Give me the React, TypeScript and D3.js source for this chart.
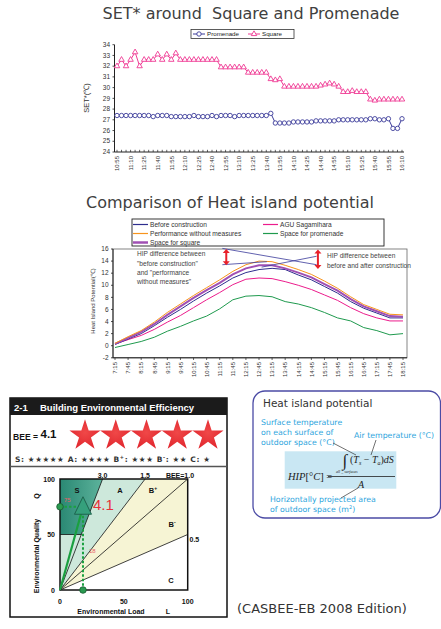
import React from 'react';
import * as d3 from 'd3';

// ---- SET* chart data (5 min steps, 10:55 - 16:10) ----
const setTickLabels = ['10:55', '11:10', '11:25', '11:40', '11:55', '12:10', '12:25', '12:40', '12:55', '13:10', '13:25',
    '13:40', '13:55', '14:10', '14:25', '14:40', '14:55', '15:10', '15:25', '15:40', '15:55', '16:10'];

const squareSet = [32.0, 32.6, 32.0, 32.6, 33.3, 32.0, 32.6, 32.6, 32.6, 33.1, 32.6, 33.1, 32.6, 33.2,
    32.6, 32.6, 32.6, 32.6, 32.6, 32.6, 32.6, 32.6, 32.6,
    31.9, 31.9, 31.9, 31.9, 31.9, 31.9,
    31.4, 31.4, 31.4, 31.4, 31.4,
    30.8, 30.7, 30.8,
    30.1, 30.1, 30.1, 30.1, 30.1, 30.1, 30.1, 30.1,
    30.2, 30.3, 30.4, 30.3,
    30.1,
    29.6, 29.6, 29.7, 29.6, 29.6, 29.6,
    28.9, 28.8, 28.9, 28.9, 28.9, 28.9, 28.9, 28.9];

const promenadeSet = [27.4, 27.4, 27.4, 27.4, 27.4, 27.4, 27.4, 27.4, 27.3, 27.4, 27.4, 27.4, 27.3, 27.3, 27.3, 27.3, 27.3,
    27.4, 27.3, 27.3, 27.3, 27.4, 27.3, 27.4, 27.4, 27.4, 27.3, 27.4, 27.4, 27.4, 27.4, 27.4, 27.4, 27.4,
    27.6,
    26.7, 26.7, 26.7, 26.7,
    26.8, 26.8, 26.8, 26.8, 26.8, 26.9, 26.9, 26.9, 26.9, 26.9,
    27.0, 27.0, 27.0, 27.0, 27.0, 27.0, 27.0,
    27.1, 27.1, 27.0, 27.0, 27.1, 26.2, 26.2, 27.1];

const setYTicks = [24, 25, 26, 27, 28, 29, 30, 31, 32, 33, 34];

// ---- Heat island potential data (30 min steps) ----
const hipTimes = ['7:15', '7:45', '8:15', '8:45', '9:15', '9:45', '10:15', '10:45', '11:15', '11:45', '12:15', '12:45',
    '13:15', '13:45', '14:15', '14:45', '15:15', '15:45', '16:15', '16:45', '17:15', '17:45', '18:15'];

const perfWithout = [0.4, 1.5, 2.5, 3.9, 5.5, 6.9, 8.3, 9.6, 10.9, 12.3, 13.4, 14.0, 13.9, 13.3, 12.6, 11.8, 10.7, 9.5, 8.1, 6.8, 6.0, 5.2, 5.1];
const spaceSquare = [0.3, 1.3, 2.3, 3.6, 5.1, 6.5, 7.9, 9.2, 10.4, 11.8, 12.8, 13.3, 13.3, 12.8, 12.1, 11.3, 10.2, 9.1, 7.7, 6.5, 5.7, 4.9, 4.8];
const beforeConstruction = [0.2, 1.1, 2.0, 3.3, 4.7, 6.0, 7.4, 8.7, 9.9, 11.2, 12.1, 12.6, 12.8, 12.6, 11.7, 10.9, 9.8, 8.7, 7.3, 6.2, 5.4, 4.6, 4.6];
const aguSagamihara = [0.3, 1.0, 1.7, 2.7, 3.9, 5.0, 6.3, 7.6, 8.8, 10.1, 11.0, 11.2, 11.1, 10.6, 10.0, 9.3, 8.4, 7.5, 6.3, 5.3, 4.6, 4.1, 4.1];
const spacePromenade = [-0.3, 0.2, 0.7, 1.4, 2.4, 3.2, 4.1, 4.9, 6.1, 7.6, 8.2, 8.3, 8.1, 7.3, 6.9, 6.3, 5.5, 4.6, 4.1, 3.0, 2.5, 1.8, 2.0];

const hipYTicks = [-2, 0, 2, 4, 6, 8, 10, 12, 14, 16];

// ---- CASBEE ----
const beeValue = '4.1';
const pointL = 18;
const pointQ = 75;
const beeLines = [3.0, 1.5, 1.0, 0.5];

const FONT = "'Liberation Sans', Arial, sans-serif";
const VFONT = "'DejaVu Sans', Verdana, sans-serif";

const App: React.FC = () => {
    // SET* scales
    const xT = d3.scaleLinear().domain([0, squareSet.length - 1]).range([117, 402]);
    const yT = d3.scaleLinear().domain([24, 34]).range([152, 44.7]);
    const lineT = d3.line<number>().x((_, i) => xT(i)).y(d => yT(d));
    const tri = d3.symbol().type(d3.symbolTriangle).size(13)();

    // HIP scales
    const xH = d3.scaleLinear().domain([0, hipTimes.length - 1]).range([115, 403]);
    const yH = d3.scaleLinear().domain([-2, 16]).range([357.8, 249]);
    const lineH = d3.line<number>().x((_, i) => xH(i)).y(d => yH(d));
    const hipSeries = [
        { name: 'Space for promenade', data: spacePromenade, color: '#1f9a4e', w: 1 },
        { name: 'AGU Sagamihara', data: aguSagamihara, color: '#ec1c8c', w: 1 },
        { name: 'Before construction', data: beforeConstruction, color: '#2e2e8e', w: 1 },
        { name: 'Space for square', data: spaceSquare, color: '#a050b4', w: 2 },
        { name: 'Performance without measures', data: perfWithout, color: '#f7941d', w: 1 },
    ];
    const legendH = [
        { name: 'Before construction', color: '#2e2e8e', w: 1.2, col: 0, row: 0 },
        { name: 'AGU Sagamihara', color: '#ec1c8c', w: 1.2, col: 1, row: 0 },
        { name: 'Performance without measures', color: '#f7941d', w: 1.2, col: 0, row: 1 },
        { name: 'Space for promenade', color: '#1f9a4e', w: 1.2, col: 1, row: 1 },
        { name: 'Space for square', color: '#a050b4', w: 2.5, col: 0, row: 2 },
    ];

    // CASBEE scales
    const xL = d3.scaleLinear().domain([0, 100]).range([60, 187.7]);
    const yQ = d3.scaleLinear().domain([0, 100]).range([590, 479]);
    const poly = (pts: number[][]) => pts.map(p => `${xL(p[0])},${yQ(p[1])}`).join(' ');
    const lineEnd = (b: number) => (b >= 1 ? [100 / b, 100] : [100, 100 * b]);
    const star = d3.symbol().type(d3.symbolStar).size(300)();
    const starX = d3.scaleLinear().domain([0, 4]).range([85, 208]);

    const redArrow = (xi: number, v1: number, v2: number) => {
        const x = xH(xi), y1 = yH(v1), y2 = yH(v2);
        return (
            <g>
                <line x1={x} x2={x} y1={y1 + 3} y2={y2 - 3} stroke="#e8202a" strokeWidth={2} />
                <polygon points={`${x - 3.5},${y1 + 4} ${x + 3.5},${y1 + 4} ${x},${y1}`} fill="#e8202a" />
                <polygon points={`${x - 3.5},${y2 - 4} ${x + 3.5},${y2 - 4} ${x},${y2}`} fill="#e8202a" />
            </g>
        );
    };

    return (
        <svg width={441} height={629} style={{ position: 'absolute', left: 0, top: 0 }} fontFamily={FONT}>
            <rect width={441} height={629} fill="white" />
            <defs>
                <linearGradient id="sGrad" x1="0" x2="1" y1="0" y2="0">
                    <stop offset="0" stopColor="#2a8873" />
                    <stop offset="1" stopColor="#5db39c" />
                </linearGradient>
                <radialGradient id="starGrad" cx="0.5" cy="0.45" r="0.6">
                    <stop offset="0" stopColor="#f04848" />
                    <stop offset="1" stopColor="#e0242c" />
                </radialGradient>
            </defs>

            {/* ================= SET* chart ================= */}
            <text x={251} y={19} textAnchor="middle" fontFamily={VFONT} fontSize={16} fill="#404040" style={{ whiteSpace: 'pre' }}>SET* around  Square and Promenade</text>
            <rect x={191} y={29.5} width={103} height={9} fill="white" stroke="#333" strokeWidth={0.8} />
            <line x1={193} x2={205} y1={34} y2={34} stroke="#3b3b9a" strokeWidth={1} />
            <circle cx={199} cy={34} r={2.2} fill="white" stroke="#3b3b9a" strokeWidth={0.9} />
            <text x={207} y={36.3} fontSize={6.2} fill="#222">Promenade</text>
            <line x1={248} x2={260} y1={34} y2={34} stroke="#ef3a94" strokeWidth={1} />
            <path d={tri} transform="translate(254,34)" fill="white" stroke="#ef3a94" strokeWidth={0.9} />
            <text x={262} y={36.3} fontSize={6.2} fill="#222">Square</text>

            <line x1={114.5} x2={114.5} y1={44.7} y2={152} stroke="#222" strokeWidth={1} />
            <line x1={114.5} x2={404} y1={152} y2={152} stroke="#222" strokeWidth={1} />
            {setYTicks.map(t => (
                <g key={t}>
                    <line x1={112.5} x2={114.5} y1={yT(t)} y2={yT(t)} stroke="#222" strokeWidth={0.8} />
                    <text x={110} y={yT(t) + 2.2} textAnchor="end" fontSize={6.5} fill="#333">{t}</text>
                </g>
            ))}
            {squareSet.map((_, i) => (
                <line key={i} x1={xT(i)} x2={xT(i)} y1={152} y2={149.8} stroke="#222" strokeWidth={0.7} />
            ))}
            {setTickLabels.map((t, k) => (
                <text key={t} transform={`translate(${xT(k * 3) + 2.3},156) rotate(-90)`} textAnchor="end" fontSize={6} fill="#333">{t}</text>
            ))}
            <text transform="translate(89,98) rotate(-90)" textAnchor="middle" fontSize={7.5} fill="#333">SET*(℃)</text>

            <path d={lineT(promenadeSet) || ''} fill="none" stroke="#3b3b9a" strokeWidth={1} />
            {promenadeSet.map((v, i) => (
                <circle key={i} cx={xT(i)} cy={yT(v)} r={2.2} fill="white" stroke="#3b3b9a" strokeWidth={0.9} />
            ))}
            <path d={lineT(squareSet) || ''} fill="none" stroke="#ef3a94" strokeWidth={1} />
            {squareSet.map((v, i) => (
                <path key={i} d={tri} transform={`translate(${xT(i)},${yT(v)})`} fill="white" stroke="#ef3a94" strokeWidth={0.9} />
            ))}

            {/* ================= HIP chart ================= */}
            <text x={230} y={208} textAnchor="middle" fontFamily={VFONT} fontSize={16} fill="#404040">Comparison of Heat island potential</text>
            <rect x={132} y={219} width={252} height={27} fill="white" stroke="#222" strokeWidth={0.9} />
            {legendH.map(l => {
                const lx = l.col === 0 ? 133 : 263;
                const ly = 224.5 + l.row * 9;
                return (
                    <g key={l.name}>
                        <line x1={lx} x2={lx + 15} y1={ly} y2={ly} stroke={l.color} strokeWidth={l.w} />
                        <text x={lx + 17} y={ly + 2.3} fontSize={6.6} fill="#333">{l.name}</text>
                    </g>
                );
            })}

            <rect x={113} y={249} width={294} height={108.8} fill="white" stroke="#666" strokeWidth={0.8} />
            <line x1={113} x2={113} y1={249} y2={357.8} stroke="#222" strokeWidth={1} />
            <line x1={113} x2={407} y1={357.8} y2={357.8} stroke="#222" strokeWidth={1} />
            {hipYTicks.map(t => (
                <g key={t}>
                    <line x1={111} x2={113} y1={yH(t)} y2={yH(t)} stroke="#222" strokeWidth={0.8} />
                    <text x={108.5} y={yH(t) + 2.2} textAnchor="end" fontSize={6.5} fill="#333">{t}</text>
                </g>
            ))}
            {hipTimes.map((t, i) => (
                <g key={t}>
                    <line x1={xH(i)} x2={xH(i)} y1={357.8} y2={360} stroke="#222" strokeWidth={0.7} />
                    <text transform={`translate(${xH(i) + 2.3},362) rotate(-90)`} textAnchor="end" fontSize={6} fill="#333">{t}</text>
                </g>
            ))}
            <text transform="translate(95,301) rotate(-90)" textAnchor="middle" fontSize={6} fill="#333">Heat Island Potential(℃)</text>

            {hipSeries.map(s => (
                <path key={s.name} d={lineH(s.data) || ''} fill="none" stroke={s.color} strokeWidth={s.w} />
            ))}

            {/* annotations */}
            <g stroke="#3a3a9a" strokeWidth={0.8}>
                <line x1={xH(8.2)} y1={yH(16.1)} x2={xH(15.4)} y2={yH(13.4)} />
                <line x1={xH(8.2)} y1={yH(13.4)} x2={xH(11.6)} y2={yH(13.9)} />
                <line x1={xH(15.4)} y1={yH(14.8)} x2={xH(11.2)} y2={yH(13.0)} />
            </g>
            {redArrow(8.5, 16.0, 13.3)}
            {redArrow(15.5, 15.9, 12.7)}
            <g fontSize={6.6} fill="#444">
                <text x={137} y={256}>HIP difference between</text>
                <text x={137} y={265.5}>"before construction"</text>
                <text x={137} y={275}>and "performance</text>
                <text x={137} y={284}>without measures"</text>
                <text x={327} y={258}>HIP difference between</text>
                <text x={327} y={267.5}>before and after construction</text>
            </g>

            {/* ================= CASBEE panel ================= */}
            <rect x={10} y={398} width={217} height={219} fill="white" stroke="#111" strokeWidth={1.5} />
            <rect x={10} y={398} width={217} height={17} fill="#1b1b1b" />
            <text x={14} y={410.5} fontSize={9.5} fontWeight="bold" fill="white">2-1</text>
            <text x={40} y={410.5} fontSize={9.5} fontWeight="bold" fill="white">Building Environmental Efficiency</text>
            <text x={13} y={440} fontSize={9.5} fontWeight="bold" fill="#111" textLength={25} lengthAdjust="spacingAndGlyphs">BEE =</text>
            <text x={40.5} y={438} fontSize={11.5} fontWeight="bold" fill="#111">{beeValue}</text>
            {d3.range(5).map(i => (
                <path key={i} d={star} transform={`translate(${starX(i)},435.5)`} fill="url(#starGrad)" />
            ))}
            <text x={15} y={462} fontFamily={VFONT} fontSize={7.5} fontWeight="bold" fill="#333" textLength={195} lengthAdjust="spacing">
                S: ★★★★★ A: ★★★★ B<tspan fontSize={5} dy={-3}>+</tspan><tspan dy={3}>: ★★★ B</tspan><tspan fontSize={5} dy={-3}>-</tspan><tspan dy={3}>: ★★ C: ★</tspan>
            </text>
            <line x1={10} x2={227} y1={466.5} y2={466.5} stroke="#555" strokeWidth={1.3} />

            {/* regions */}
            <polygon points={poly([[0, 0], lineEnd(1.5), [100, 100], [100, 50]])} fill="#f6f4d4" />
            <polygon points={poly([[0, 0], lineEnd(1.5), [0, 100]])} fill="#cde8db" />
            <polygon points={poly([[0, 50], [50 / 3, 50], lineEnd(3.0), [0, 100]])} fill="url(#sGrad)" />
            {beeLines.map(b => {
                const e = lineEnd(b);
                return <line key={b} x1={xL(0)} y1={yQ(0)} x2={xL(e[0])} y2={yQ(e[1])} stroke="#111" strokeWidth={0.8} />;
            })}
            <line x1={xL(0)} x2={xL(50 / 3)} y1={yQ(50)} y2={yQ(50)} stroke="#111" strokeWidth={0.8} />
            <rect x={xL(0)} y={yQ(100)} width={xL(100) - xL(0)} height={yQ(0) - yQ(100)} fill="none" stroke="#111" strokeWidth={1.5} />

            <g fontSize={7.5} fontWeight="bold" fill="#111">
                <text x={77} y={493} textAnchor="middle">S</text>
                <text x={120} y={493} textAnchor="middle">A</text>
                <text x={153} y={493} textAnchor="middle">B<tspan fontSize={5} dy={-3}>+</tspan></text>
                <text x={172} y={527} textAnchor="middle">B<tspan fontSize={5} dy={-3}>-</tspan></text>
                <text x={171} y={583} textAnchor="middle">C</text>
            </g>
            <g fontSize={7} fontWeight="bold" fill="#111">
                <text x={xL(100 / 3)} y={477.5} textAnchor="middle">3.0</text>
                <text x={xL(200 / 3)} y={477.5} textAnchor="middle">1.5</text>
                <text x={180} y={477.5} textAnchor="middle">BEE=1.0</text>
                <text x={189.5} y={542} >0.5</text>
                <text x={55} y={yQ(100) + 2.5} textAnchor="end">100</text>
                <text x={55} y={yQ(50) + 2.5} textAnchor="end">50</text>
                <text x={55} y={yQ(0) + 2.5} textAnchor="end">0</text>
                <text x={xL(0)} y={603.5} textAnchor="middle">0</text>
                <text x={xL(50)} y={603.5} textAnchor="middle">50</text>
                <text x={xL(100)} y={603.5} textAnchor="middle">100</text>
                <text x={111} y={613.5} textAnchor="middle">Environmental Load</text>
                <text x={168} y={613.5} textAnchor="middle">L</text>
                <text transform="translate(39,556) rotate(-90)" textAnchor="middle">Environmental Quality</text>
                <text transform="translate(39,496) rotate(-90)" textAnchor="middle">Q</text>
            </g>

            {/* point */}
            <line x1={xL(0)} y1={yQ(pointQ)} x2={xL(pointL)} y2={yQ(pointQ)} stroke="#1aa040" strokeWidth={2} strokeDasharray="2.5,2" />
            <line x1={xL(pointL)} y1={yQ(pointQ)} x2={xL(pointL)} y2={yQ(0)} stroke="#1aa040" strokeWidth={2} strokeDasharray="2.5,2" />
            <line x1={xL(0)} y1={yQ(0)} x2={xL(pointL)} y2={yQ(pointQ)} stroke="#1aa040" strokeWidth={2.2} />
            <circle cx={xL(0)} cy={yQ(pointQ)} r={3.3} fill="#2a9a50" stroke="#175c30" strokeWidth={0.8} />
            <circle cx={xL(pointL)} cy={yQ(0)} r={3.3} fill="#2a9a50" stroke="#175c30" strokeWidth={0.8} />
            <polygon points={`${xL(pointL)},${yQ(pointQ) - 10} ${xL(pointL) - 8.5},${yQ(pointQ) + 7.5} ${xL(pointL) + 8.5},${yQ(pointQ) + 7.5}`}
                fill="#35a07c" stroke="#1b5e48" strokeWidth={0.9} />
            <text x={xL(0) + 4} y={yQ(pointQ) - 5} fontSize={6} fill="#e8606a">{pointQ}</text>
            <text x={xL(pointL) + 6} y={yQ(pointQ) + 46} fontSize={6} fill="#e8606a">{pointL}</text>
            <text x={93} y={510} fontSize={15} fill="#e8303a">{beeValue}</text>

            {/* ================= HIP formula box ================= */}
            <rect x={253} y={391} width={187.5} height={127} rx={12} fill="white" stroke="#4b4ba5" strokeWidth={1.3} />
            <text x={263} y={407} fontFamily={VFONT} fontSize={10.5} fill="#333">Heat island potential</text>
            <g fontFamily={VFONT} fontSize={7.8} fill="#2ba4dd">
                <text x={261} y={425}>Surface temperature</text>
                <text x={261} y={434.5}>on each surface of</text>
                <text x={261} y={444.5}>outdoor space (°C)</text>
                <text x={354} y={438}>Air temperature (°C)</text>
                <text x={270} y={502}>Horizontally projected area</text>
                <text x={270} y={512}>of outdoor space (m<tspan fontSize={5} dy={-3}>2</tspan><tspan dy={3}>)</tspan></text>
            </g>
            <rect x={284.7} y={451.3} width={111.6} height={37.4} fill="#c9e7f3" />
            <g fontFamily="'Liberation Serif', 'Times New Roman', serif" fill="#222">
                <text x={288} y={479.5} fontSize={10.5} fontStyle="italic">HIP<tspan fontStyle="normal">[°</tspan>C<tspan fontStyle="normal">] =</tspan></text>
                <text x={342.5} y={466} fontSize={17}>∫</text>
                <text x={350} y={462.5} fontSize={10} fontStyle="italic">
                    <tspan fontStyle="normal">(</tspan>T<tspan fontSize={6} dy={2}>s</tspan><tspan dy={-2} fontStyle="normal"> − </tspan>T<tspan fontSize={6} dy={2}>a</tspan><tspan dy={-2} fontStyle="normal">)</tspan>dS
                </text>
                <text x={336} y={472.5} fontSize={4} fontStyle="italic">all _ surfaces</text>
                <line x1={328} x2={395} y1={476.5} y2={476.5} stroke="#222" strokeWidth={0.8} />
                <text x={358} y={487.5} fontSize={10} fontStyle="italic">A</text>
            </g>
            <g stroke="#333" strokeWidth={0.7}>
                <line x1={333} y1={443} x2={356} y2={455} />
                <line x1={376} y1={440} x2={371} y2={455} />
                <line x1={341} y1={498} x2={358} y2={488} />
            </g>

            <text x={237} y={613} fontFamily={VFONT} fontSize={13} fill="#333">(CASBEE-EB 2008 Edition)</text>
        </svg>
    );
};

export default App;
